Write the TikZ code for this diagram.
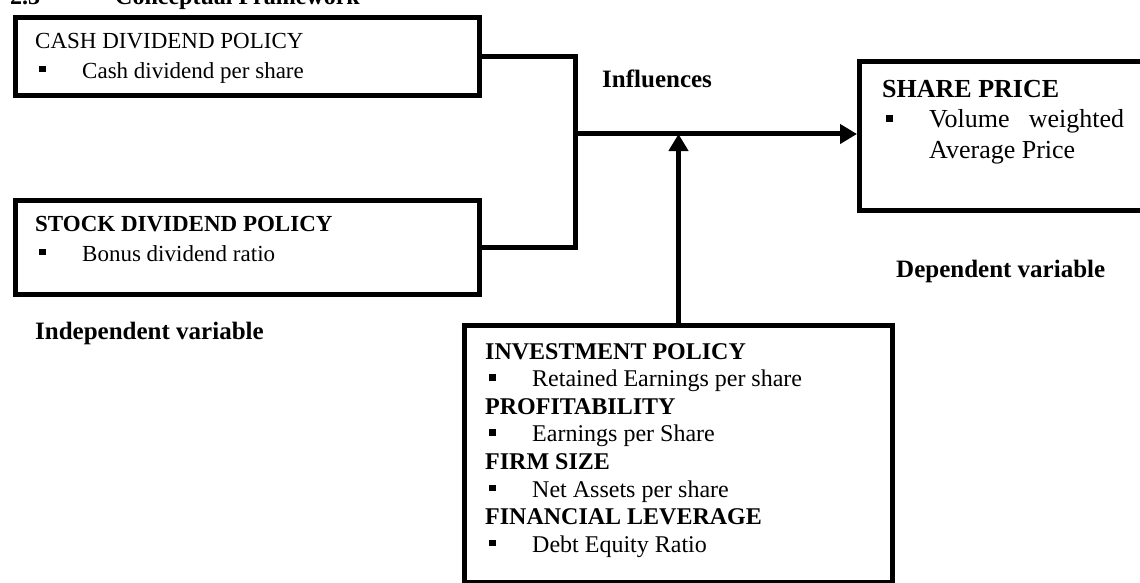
\documentclass[tikz,border=0pt]{standalone}
\usepackage{fontspec}
\setmainfont{Liberation Serif}
\usepackage{tikz}
\usetikzlibrary{positioning, calc, arrows.meta}

\newcommand{\Bul}{\makebox[47pt][l]{\hspace{4pt}\rule[6pt]{6.5pt}{6.5pt}}}

\begin{document}
\begin{tikzpicture}[x=1pt, y=-1pt,
					FrameBox/.style={draw, line width=5pt, rectangle, anchor=north west, inner sep=0pt},
					BoxText/.style={anchor=north west, inner sep=0pt, align=left, font=\fontsize{23}{30}\selectfont},
					BoldLabel/.style={anchor=north west, inner sep=0pt, font=\bfseries\fontsize{25}{28}\selectfont},
					Link/.style={line width=5pt},
					LinkArrow/.style={line width=5pt, -{Triangle[length=17pt, width=19pt]}}]

				\useasboundingbox (0,0) rectangle (1140,583);

				% Boxes
				\node[FrameBox, minimum width=464pt, minimum height=78pt] (CashBox) at (13,15) {};
				\node[FrameBox, minimum width=464pt, minimum height=94pt] (StockBox) at (13,198) {};
				\node[FrameBox, minimum width=320pt, minimum height=149pt] (ShareBox) at (857,59) {};
				\node[FrameBox, minimum width=428pt, minimum height=257pt] (InvestBox) at (462,323) {};

				% Texts
				\node[anchor=base west, inner sep=0pt, font=\bfseries\fontsize{24}{28}\selectfont] (Title) at (10,5) {2.3\hspace{75pt}Conceptual Framework};
				\node[BoxText] (CashText) at (35,33) {CASH DIVIDEND POLICY\\ \Bul Cash dividend per share};
				\node[BoxText] (StockText) at (35,216) {\textbf{STOCK DIVIDEND POLICY}\\ \Bul Bonus dividend ratio};
				\node[BoxText, font=\fontsize{26}{30.5}\selectfont] (ShareText) at (882,80) {\textbf{SHARE PRICE}\\ \Bul\makebox[195pt][s]{Volume weighted}\\ \hspace{47pt}Average Price};
				\node[BoxText, font=\fontsize{24}{27.6}\selectfont] (InvestText) at (485,343) {\textbf{INVESTMENT POLICY}\\ \Bul Retained Earnings per share\\
					\textbf{PROFITABILITY}\\ \Bul Earnings per Share\\
					\textbf{FIRM SIZE}\\ \Bul Net Assets per share\\
					\textbf{FINANCIAL LEVERAGE}\\ \Bul Debt Equity Ratio};
				\node[BoldLabel] (IndepLabel) at (35,322) {Independent variable};
				\node[BoldLabel] (InfluLabel) at (602,70) {Influences};
				\node[BoldLabel] (DepLabel) at (896,260) {Dependent variable};

				% Lines
				\coordinate (Join) at (575,134);
				\draw[Link] (CashBox.east) -| (Join) |- (StockBox.east);
				\draw[LinkArrow] (Join) -- (Join -| ShareBox.west);
				\draw[LinkArrow] (InvestBox.north) -- (InvestBox.north |- Join);
			\end{tikzpicture}
\end{document}
